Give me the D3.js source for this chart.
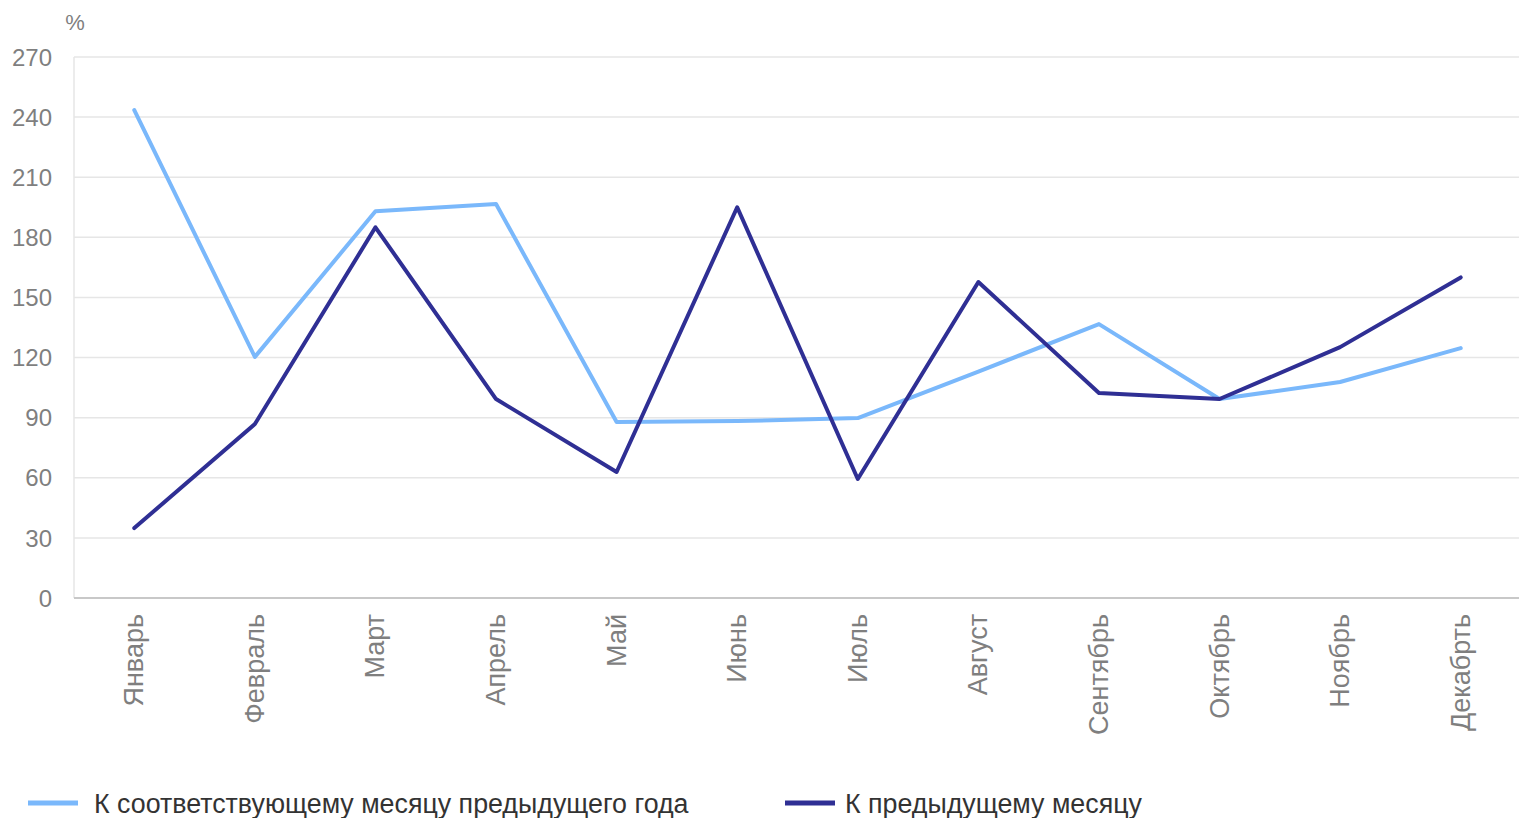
<!DOCTYPE html>
<html>
<head>
<meta charset="utf-8">
<script src="https://cdn.jsdelivr.net/npm/d3@7"></script>
<style>
  body { margin: 0; background: #fff; }
  svg { display: block; font-family: "Liberation Sans", Arial, sans-serif; }
</style>
</head>
<body>
<svg id="chart" width="1519" height="818"></svg>
<script>
const months = ["Январь", "Февраль", "Март", "Апрель", "Май", "Июнь", "Июль", "Август", "Сентябрь", "Октябрь", "Ноябрь", "Декабрть"];
const yearOverYear = [243.5, 120.3, 193, 196.6, 87.8, 88.3, 89.8, 113, 136.7, 99.3, 107.8, 124.7];
const monthOverMonth = [34.9, 86.8, 185, 99.3, 62.9, 195, 59.4, 157.7, 102.3, 99.3, 125.2, 160];
const yTicks = [0, 30, 60, 90, 120, 150, 180, 210, 240, 270];

const series = [
  { name: "К соответствующему месяцу предыдущего года", color: "#7ab8fb", values: yearOverYear },
  { name: "К предыдущему месяцу", color: "#2f2f94", values: monthOverMonth },
];

const svg = d3.select("#chart");
const plotLeft = 74, plotRight = 1519, plotTop = 57, plotBottom = 598;

const x = d3.scaleBand().domain(months).range([plotLeft, plotRight + 2]);
const y = d3.scaleLinear().domain([0, 270]).range([plotBottom, plotTop]);

// grid
svg.append("g")
  .selectAll("line")
  .data(yTicks.filter((d) => d > 0))
  .join("line")
  .attr("x1", plotLeft)
  .attr("x2", plotRight)
  .attr("y1", (d) => y(d))
  .attr("y2", (d) => y(d))
  .attr("stroke", "#e6e6e6")
  .attr("stroke-width", 1.5);

svg.append("line")
  .attr("x1", plotLeft).attr("x2", plotLeft)
  .attr("y1", plotTop).attr("y2", plotBottom)
  .attr("stroke", "#e6e6e6").attr("stroke-width", 1.5);

svg.append("line")
  .attr("x1", plotLeft).attr("x2", plotRight)
  .attr("y1", plotBottom).attr("y2", plotBottom)
  .attr("stroke", "#c8c8c8").attr("stroke-width", 2);

// y labels
svg.append("g")
  .selectAll("text")
  .data(yTicks)
  .join("text")
  .attr("x", 52)
  .attr("y", (d) => y(d))
  .attr("dy", "0.36em")
  .attr("text-anchor", "end")
  .attr("fill", "#7f7f7f")
  .attr("font-size", 24)
  .text((d) => d);

svg.append("text")
  .attr("x", 75).attr("y", 30)
  .attr("text-anchor", "middle")
  .attr("fill", "#7f7f7f")
  .attr("font-size", 22)
  .text("%");

// x labels, rotated
svg.append("g")
  .selectAll("text")
  .data(months)
  .join("text")
  .attr("transform", (d) => `translate(${x(d) + x.bandwidth() / 2 + 9},${plotBottom + 16}) rotate(-90)`)
  .attr("text-anchor", "end")
  .attr("fill", "#7f7f7f")
  .attr("font-size", 27)
  .text((d) => d);

// lines
const line = d3.line()
  .x((d, i) => x(months[i]) + x.bandwidth() / 2)
  .y((d) => y(d));

svg.append("g")
  .selectAll("path")
  .data(series)
  .join("path")
  .attr("d", (d) => line(d.values))
  .attr("fill", "none")
  .attr("stroke", (d) => d.color)
  .attr("stroke-width", 4)
  .attr("stroke-linejoin", "round")
  .attr("stroke-linecap", "round");

// legend
const legendX = [28, 785];
const legendTextX = [94, 845];
const legend = svg.append("g")
  .selectAll("g")
  .data(series)
  .join("g")
  .attr("transform", "translate(0,803)");

legend.append("line")
  .attr("x1", (d, i) => legendX[i])
  .attr("x2", (d, i) => legendX[i] + 50)
  .attr("stroke", (d) => d.color)
  .attr("stroke-width", 5);

legend.append("text")
  .attr("x", (d, i) => legendTextX[i])
  .attr("dy", "0.36em")
  .attr("fill", "#333")
  .attr("font-size", 26.8)
  .text((d) => d.name);
</script>
</body>
</html>
